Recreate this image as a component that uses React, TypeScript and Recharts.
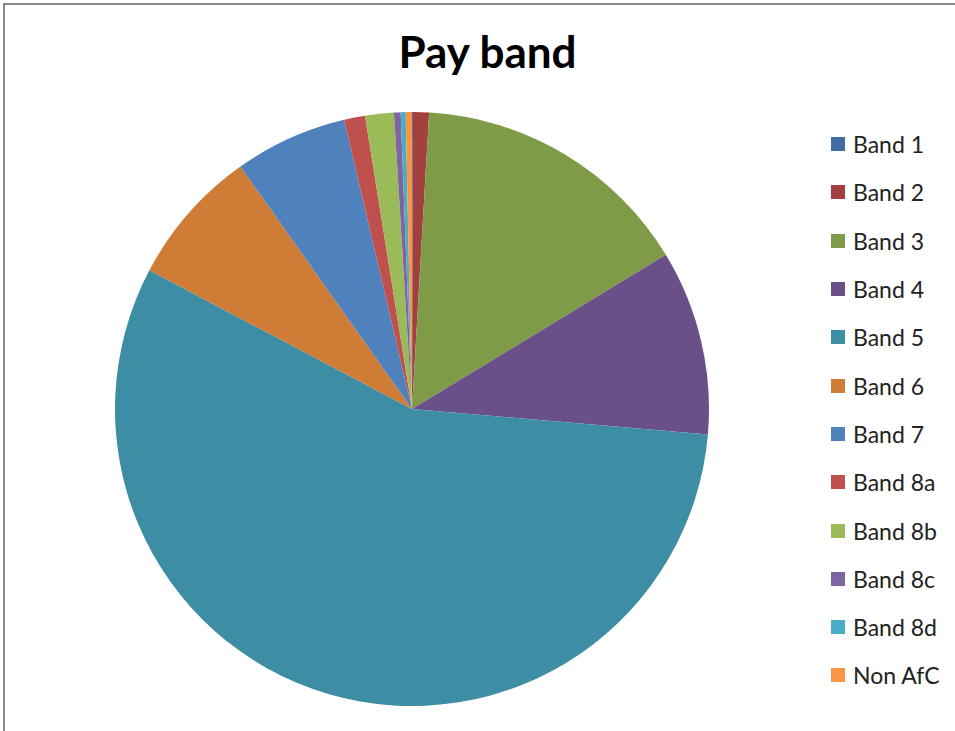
import React from "react";
import { PieChart, Pie, Cell } from "recharts";

const categories = ["Band 1", "Band 2", "Band 3", "Band 4", "Band 5", "Band 6", "Band 7", "Band 8a", "Band 8b", "Band 8c", "Band 8d", "Non AfC"];
const values = [0.05, 0.87, 15.4, 10.06, 56.4, 7.47, 6.14, 1.14, 1.56, 0.36, 0.27, 0.34];
const colors = ["#3F6CA1", "#A2403D", "#7F9B48", "#6A5088", "#3D8DA4", "#CE7C36", "#4F81BD", "#C0504D", "#9BBB59", "#8064A2", "#4BACC6", "#F79646"];

const data = categories.map((name, i) => ({ name, value: values[i] }));

export default function App() {
  return (
    <div style={{ position: "absolute", left: 0, top: 0, width: 955, height: 731, background: "#fff" }}>
      <div style={{ position: "absolute", left: 3, top: 3, width: 952, height: 728, borderTop: "2px solid #8a8a8a", borderLeft: "2px solid #8a8a8a", boxSizing: "border-box" }} />
      <div style={{ position: "absolute", left: 0, width: 975, top: 25, textAlign: "center", fontFamily: "Lato, 'Open Sans', sans-serif", fontWeight: 700, fontSize: 44, color: "#000" }}>
        Pay band
      </div>
      <div style={{ position: "absolute", left: 0, top: 0 }}>
        <PieChart width={955} height={731} margin={{ top: 0, right: 0, bottom: 0, left: 0 }}>
          <Pie
            data={data}
            dataKey="value"
            nameKey="name"
            cx={412}
            cy={409}
            outerRadius={297}
            startAngle={90}
            endAngle={-270}
            stroke="none"
            isAnimationActive={false}
          >
            {data.map((d, i) => (
              <Cell key={d.name} fill={colors[i]} />
            ))}
          </Pie>
        </PieChart>
      </div>
      <div style={{ position: "absolute", left: 831, top: 120, width: 130, fontFamily: "Lato, 'Open Sans', sans-serif", fontSize: 23, color: "#222" }}>
        {categories.map((c, i) => (
          <div key={c} style={{ display: "flex", alignItems: "center", height: 48.3 }}>
            <div style={{ width: 14, height: 14, background: colors[i], marginRight: 8, flexShrink: 0 }} />
            <span style={{ whiteSpace: "nowrap" }}>{c}</span>
          </div>
        ))}
      </div>
    </div>
  );
}
